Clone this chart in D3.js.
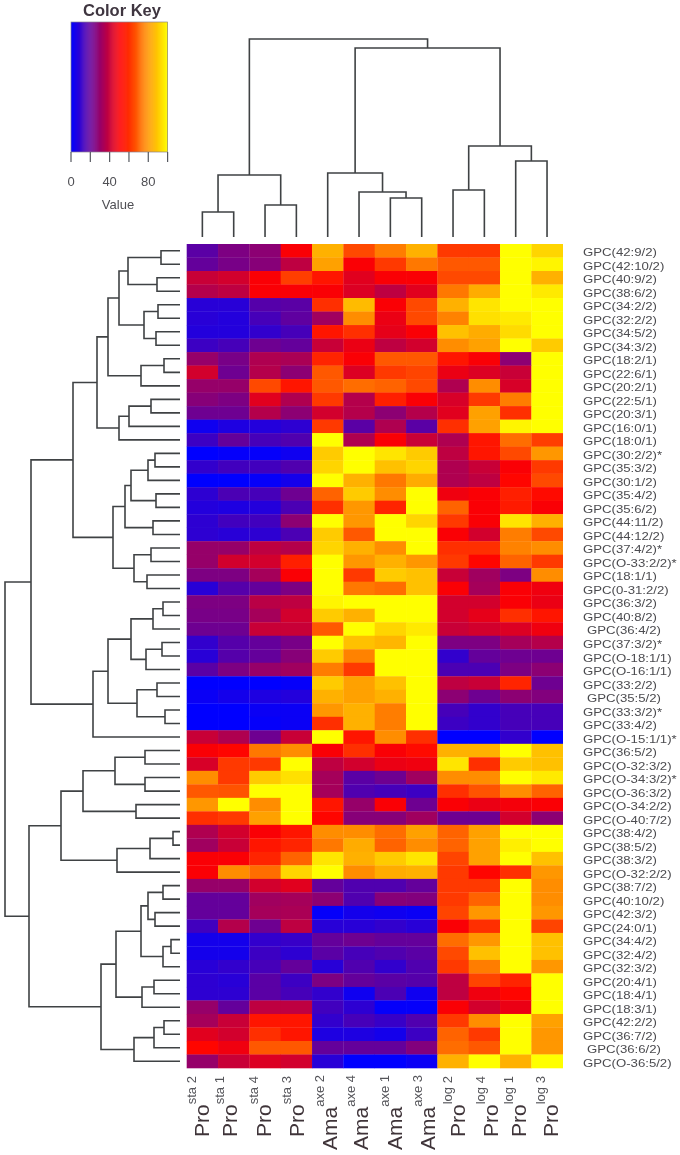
<!DOCTYPE html>
<html><head><meta charset="utf-8">
<script src="https://d3js.org/d3.v7.min.js"></script>
<style>
html,body{margin:0;padding:0;background:#fff;}
svg{display:block;filter:blur(0.6px);}
text{font-family:"Liberation Sans",Arial,sans-serif;}
</style></head><body>
<div id="chart"></div>
<script>
const colLabels = ["sta 2","sta 1","sta 4","sta 3","axe 2","axe 4","axe 1","axe 3","log 2","log 4","log 1","log 3"];
const colPrefix = ["Pro","Pro","Pro","Pro","Ama","Ama","Ama","Ama","Pro","Pro","Pro","Pro"];
const rowLabels = ["GPC(42:9/2)","GPC(42:10/2)","GPC(40:9/2)","GPC(38:6/2)","GPC(34:2/2)","GPC(32:2/2)","GPC(34:5/2)","GPC(34:3/2)","GPC(18:2/1)","GPC(22:6/1)","GPC(20:2/1)","GPC(22:5/1)","GPC(20:3/1)","GPC(16:0/1)","GPC(18:0/1)","GPC(30:2/2)*","GPC(35:3/2)","GPC(30:1/2)","GPC(35:4/2)","GPC(35:6/2)","GPC(44:11/2)","GPC(44:12/2)","GPC(37:4/2)*","GPC(O-33:2/2)*","GPC(18:1/1)","GPC(0-31:2/2)","GPC(36:3/2)","GPC(40:8/2)","GPC(36:4/2)","GPC(37:3/2)*","GPC(O-18:1/1)","GPC(O-16:1/1)","GPC(33:2/2)","GPC(35:5/2)","GPC(33:3/2)*","GPC(33:4/2)","GPC(O-15:1/1)*","GPC(36:5/2)","GPC(O-32:3/2)","GPC(O-34:3/2)*","GPC(O-36:3/2)","GPC(O-34:2/2)","GPC(O-40:7/2)","GPC(38:4/2)","GPC(38:5/2)","GPC(38:3/2)","GPC(O-32:2/2)","GPC(38:7/2)","GPC(40:10/2)","GPC(42:3/2)","GPC(24:0/1)","GPC(34:4/2)","GPC(32:4/2)","GPC(32:3/2)","GPC(20:4/1)","GPC(18:4/1)","GPC(18:3/1)","GPC(42:2/2)","GPC(36:7/2)","GPC(36:6/2)","GPC(O-36:5/2)"];
const heatValues = [
[18,25,28,50,85,65,75,85,62,62,100,92],
[20,24,27,38,82,50,62,74,68,68,100,98],
[40,42,50,63,55,45,50,50,65,65,100,85],
[36,38,50,50,50,44,38,45,74,84,100,96],
[8,8,17,18,60,87,50,65,85,95,100,100],
[8,7,14,19,32,78,47,65,76,94,96,100],
[7,7,10,14,55,60,46,50,88,84,93,100],
[12,14,22,20,40,47,38,42,78,82,100,90],
[30,24,35,34,58,50,68,68,55,50,28,100],
[42,22,36,28,68,44,62,64,47,44,40,100],
[30,30,65,55,68,72,70,65,35,78,43,100],
[27,25,45,35,62,36,57,50,43,62,75,100],
[22,22,36,28,42,36,28,36,45,82,60,100],
[3,6,7,9,62,18,35,18,60,82,98,100],
[12,20,14,16,100,35,50,40,35,55,72,63],
[0,1,1,3,90,100,95,90,38,55,65,80],
[10,13,13,16,92,100,88,92,35,40,50,62],
[0,0,1,4,100,85,74,84,35,38,52,65],
[9,15,14,22,70,90,78,100,48,50,57,53],
[7,6,7,15,60,80,58,100,70,50,56,50],
[9,13,13,28,100,80,100,92,62,50,95,85],
[9,8,9,15,90,68,100,100,50,42,75,65],
[30,30,38,36,92,85,78,100,60,60,76,78],
[30,42,42,57,100,80,85,80,62,52,70,62],
[25,25,33,50,100,62,90,88,40,32,25,78],
[8,17,20,25,100,74,72,88,50,33,50,48],
[25,25,37,38,98,100,100,100,42,42,50,47],
[24,24,33,42,90,85,100,100,42,46,60,55],
[22,22,40,40,68,100,92,96,40,42,44,48],
[10,17,20,24,100,88,86,100,25,25,33,36],
[8,17,20,27,90,76,100,100,10,20,22,22],
[18,25,30,32,75,62,100,100,15,15,25,28],
[0,0,0,1,90,82,88,100,38,40,58,22],
[2,4,6,7,85,82,85,100,28,22,28,26],
[0,0,2,2,80,85,75,100,14,10,14,14],
[0,0,1,2,60,85,75,100,12,10,14,14],
[40,35,22,40,100,55,78,60,0,0,10,0],
[50,52,74,78,50,60,50,53,85,85,100,88],
[43,62,62,100,38,42,47,48,95,60,90,88],
[78,62,90,94,33,18,22,32,78,78,100,96],
[68,67,100,100,33,16,14,12,60,67,78,70],
[80,100,78,100,55,30,50,22,50,47,49,50],
[60,62,82,100,52,27,27,32,22,22,42,28],
[35,42,50,55,78,78,72,82,70,82,100,100],
[32,40,55,58,74,84,70,78,70,82,97,100],
[50,50,58,70,95,85,90,95,64,82,100,88],
[50,78,72,92,100,78,84,85,62,52,60,80],
[30,30,42,45,20,16,16,20,62,62,100,78],
[20,20,32,33,28,16,27,26,62,70,100,78],
[20,20,33,34,1,4,3,2,64,80,100,80],
[13,36,22,38,8,8,10,8,50,60,100,64],
[4,4,10,11,20,22,20,20,72,80,100,88],
[4,4,12,9,18,14,16,18,65,88,100,88],
[8,10,14,20,8,16,10,16,62,75,100,80],
[9,8,18,12,25,20,18,17,38,64,58,100],
[9,9,18,14,10,3,15,3,38,48,52,100],
[30,20,38,38,13,9,1,1,50,42,47,100],
[33,40,55,55,10,14,11,16,62,78,100,82],
[45,42,60,55,6,6,4,12,70,62,100,80],
[52,48,68,68,20,20,20,26,72,68,100,80],
[30,40,44,42,8,0,0,2,85,100,85,100]];
// dendrograms: [mergeHeight, childA, childB]; a number child is a 1-based leaf
const rowTree = [175,
 [149,
  [107,
   [83,
    [72,
     [61,[52,[19,1,2],[23,3,4]],[36,[22,5,6],[24,7,8]]],
     [39,[16,9,10],11]],
    [61,[51,[29,12,13],14],15]],
   [67,
    [55,[49,[32,[25,16,17],18],[24,19,20]],[27,21,22]],
    [46,[29,23,24],[33,25,26]]]],
  [87,
   [72,
    [49,[27,[17,27,28],29],[34,[18,30,31],32]],
    [43,[23,33,34],[15,35,36]]],
   37]],
 [151,
  [119,
   [97,[65,[35,38,39],[35,40,41]],[44,42,43]],
   [63,[30,[7,44,45],46],47]],
  [79,
   [64,
    [39,[32,[17,48,49],[25,50,51]],[17,[9,52,53],54]],
    [38,[26,55,56],57]],
   [46,[26,[16,58,59],60],61]]]];
const colTree = [198,
 [62,[25,1,2],[32,3,4]],
 [189,
  [64,5,[45,6,[39,7,8]]],
  [91,[47,9,10],[76,11,12]]]];
const keyTicks = [0,20,40,60,80,100];
const keyTickLabels = [0,40,80];

const W=680,H=1155;
const svg=d3.select("#chart").append("svg").attr("width",W).attr("height",H);
const x=d3.scaleBand().domain(d3.range(colLabels.length)).range([186.7,562.7]);
const y=d3.scaleBand().domain(d3.range(rowLabels.length)).range([244,1068]);
const color=d3.scaleLinear().domain([0,51,100]).range(["#0000ff","#ff0000","#ffff00"]);
const rowDist=d3.scaleLinear().domain([0,175]).range([180,5]);
const colDist=d3.scaleLinear().domain([0,198]).range([237,39]);

// heat cells
svg.append("g").selectAll("g").data(heatValues).join("g")
 .attr("transform",(d,i)=>`translate(0,${y(i)})`)
 .selectAll("rect").data(d=>d).join("rect")
 .attr("x",(d,j)=>x(j)).attr("width",x.bandwidth()+0.3)
 .attr("height",y.bandwidth()+0.3).attr("fill",d=>color(d));

// dendrograms
function layout(node,pos,dist,horizontal,out){
  if(typeof node==="number") return {p:pos(node-1)+(horizontal?y.bandwidth():x.bandwidth())/2,h:0};
  const a=layout(node[1],pos,dist,horizontal,out),b=layout(node[2],pos,dist,horizontal,out);
  const h=node[0],hp=dist(h);
  const ap=dist(a.h),bp=dist(b.h);
  out.push(horizontal
    ? `M${ap},${a.p}H${hp}V${b.p}H${bp}`
    : `M${a.p},${ap}V${hp}H${b.p}V${bp}`);
  return {p:(a.p+b.p)/2,h};
}
const rowPaths=[],colPaths=[];
layout(rowTree,y,rowDist,true,rowPaths);
layout(colTree,x,colDist,false,colPaths);
svg.append("g").selectAll("path").data(rowPaths.concat(colPaths)).join("path")
 .attr("d",d=>d).attr("fill","none").attr("stroke","#3f4244").attr("stroke-width",1.6);

// row labels
const nudged=new Set(["GPC(36:4/2)","GPC(35:5/2)","GPC(36:6/2)"]);
svg.append("g").selectAll("text").data(rowLabels).join("text")
 .attr("transform",(d,i)=>`translate(${nudged.has(d)?587:583},${y(i)+y.bandwidth()/2+5.5}) scale(1.2,1)`)
 .attr("font-size",11).attr("fill","#4c4c50").text(d=>d);

// column labels
const colNudge=[6.6,3.3,5.7,7.6,9,9,11.3,13.3,12,13.6,10.3,11];
const colText=svg.append("g").selectAll("text").data(colLabels).join("text")
 .attr("transform",(d,j)=>`translate(${x(j)+x.bandwidth()/2+colNudge[j]},${colPrefix[j]==="Ama"?1150:1137}) rotate(-90)`)
 .attr("fill","#3f3439");
colText.append("tspan").attr("font-size",21).text((d,j)=>colPrefix[j]);
colText.append("tspan").attr("font-size",13).attr("dy",-13).attr("fill","#55555a").text(d=>d);

// colour key
const keyX=d3.scaleLinear().domain([0,100]).range([71,167.6]);
const key=svg.append("g");
key.selectAll("rect").data(d3.range(0,100,1)).join("rect")
 .attr("x",d=>keyX(d)).attr("width",keyX(1)-keyX(0)+0.3)
 .attr("y",22).attr("height",130).attr("fill",d=>color(d+0.5));
key.append("rect").attr("x",71).attr("y",22).attr("width",96.6).attr("height",130)
 .attr("fill","none").attr("stroke","#8a8290").attr("stroke-width",0.7);
key.selectAll("line").data(keyTicks).join("line")
 .attr("x1",d=>keyX(d)).attr("x2",d=>keyX(d)).attr("y1",152).attr("y2",162)
 .attr("stroke","#55585f").attr("stroke-width",1.2);
key.selectAll("text.t").data(keyTickLabels).join("text").attr("class","t")
 .attr("x",d=>keyX(d)).attr("y",186).attr("text-anchor","middle")
 .attr("font-size",13).attr("fill","#4f4f54").text(d=>d);
svg.append("text").attr("x",118).attr("y",209).attr("text-anchor","middle")
 .attr("font-size",13).attr("fill","#4f4f54").text("Value");
svg.append("text").attr("x",122).attr("y",16).attr("text-anchor","middle")
 .attr("font-size",16.5).attr("font-weight","bold").attr("fill","#3f3640").text("Color Key");
</script></body></html>
